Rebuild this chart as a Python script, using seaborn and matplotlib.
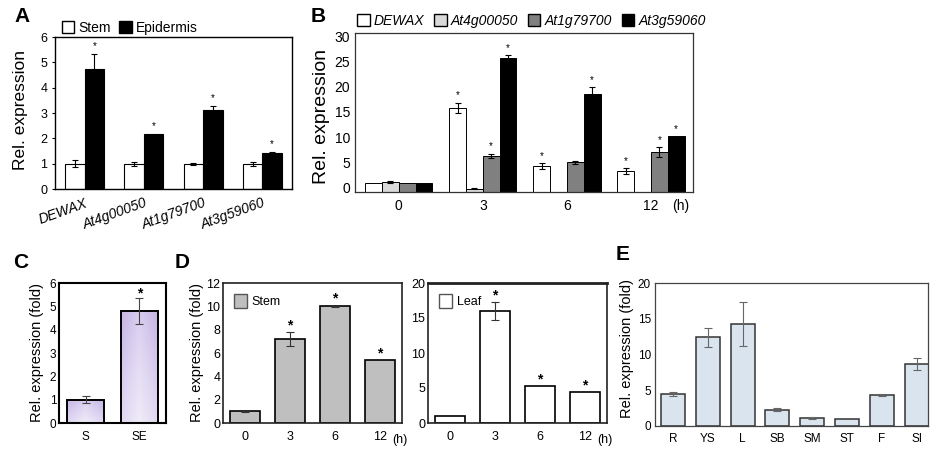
import numpy as np
import pandas as pd
import matplotlib
matplotlib.use("Agg")
import matplotlib.pyplot as plt
import seaborn as sns
from matplotlib.patches import Patch
from matplotlib.colors import LinearSegmentedColormap

# ---- panel A: stem vs stem epidermis
a_genes = ["DEWAX", "At4g00050", "At1g79700", "At3g59060"]
a_stem = [1.0, 1.0, 1.0, 1.0]
a_stem_err = [0.15, 0.08, 0.04, 0.08]
a_epi = [4.75, 2.19, 3.11, 1.44]
a_epi_err = [0.57, 0.0, 0.17, 0.02]

# ---- panel B: time course (h), 0 = no bar drawn
b_times = ["0", "3", "6", "12"]
b_genes = ["DEWAX", "At4g00050", "At1g79700", "At3g59060"]
b_dewax = [1.0, 15.8, 4.3, 3.3]
b_dewax_err = [0.0, 1.05, 0.6, 0.6]
b_at4g = [1.1, -0.2, 0.0, 0.0]
b_at4g_err = [0.2, 0.1, 0.0, 0.0]
b_at1g = [1.0, 6.4, 5.1, 7.1]
b_at1g_err = [0.0, 0.4, 0.3, 0.9]
b_at3g = [1.0, 25.6, 18.6, 10.3]
b_at3g_err = [0.0, 0.6, 1.3, 0.0]
b_star = [[False, True, True, True], [False, False, False, False],
          [False, True, False, True], [False, True, True, True]]

# ---- panel C
c_tissue = ["S", "SE"]
c_vals = [1.0, 4.8]
c_err = [0.14, 0.55]

# ---- panel D
d_times = ["0", "3", "6", "12"]
d_stem = [1.0, 7.2, 10.0, 5.4]
d_stem_err = [0.05, 0.6, 0.06, 0.0]
d_leaf = [1.0, 16.0, 5.3, 4.4]
d_leaf_err = [0.0, 1.3, 0.0, 0.0]

# ---- panel E: organs
e_organs = ["R", "YS", "L", "SB", "SM", "ST", "F", "SI"]
e_vals = [4.5, 12.4, 14.3, 2.3, 1.1, 1.0, 4.35, 8.7]
e_err = [0.25, 1.3, 3.1, 0.15, 0.1, 0.0, 0.15, 0.8]

plt.rcParams["font.family"] = ["Liberation Sans", "DejaVu Sans"]
W, H = 941, 451
fig = plt.figure(figsize=(W / 100, H / 100), dpi=100)


def px_axes(l, r, t, b):
    return fig.add_axes([l / W, 1 - b / H, (r - l) / W, (b - t) / H])


def box(ax, lw=1.0, color="black"):
    for s in ax.spines.values():
        s.set_linewidth(lw)
        s.set_color(color)
    ax.tick_params(axis="x", length=0)
    ax.tick_params(axis="y", length=2, width=0.8)
    ax.set_xlabel("")
    ax.set_ylabel("")


def bar_centers(ax):
    out = []
    for cont in ax.containers:
        out.append([b.get_x() + b.get_width() / 2 for b in cont])
    return out


def add_err(ax, xs, tops, errs, color="black", lw=0.8, cap=2.5):
    for x, t, e in zip(xs, tops, errs):
        if e > 0:
            ax.errorbar(x, t, yerr=e, fmt="none", ecolor=color, elinewidth=lw,
                        capsize=cap, capthick=lw)


def panel_letter(x, y, s):
    fig.text(x / W, 1 - y / H, s, fontsize=15, fontweight="bold",
             ha="center", va="center")


# ================= A =================
axA = px_axes(55, 292, 37, 189)
dfA = pd.DataFrame({"gene": a_genes * 2,
                    "val": a_stem + a_epi,
                    "tissue": ["Stem"] * 4 + ["Epidermis"] * 4})
sns.barplot(data=dfA, x="gene", y="val", hue="tissue", order=a_genes,
            hue_order=["Stem", "Epidermis"], palette=["white", "black"],
            edgecolor="black", linewidth=0.8, width=0.66, errorbar=None,
            legend=False, ax=axA)
axA.set_ylim(0, 6)
axA.set_xlim(-0.5, 3.5)
box(axA)
cA = bar_centers(axA)
add_err(axA, cA[0], a_stem, a_stem_err)
add_err(axA, cA[1], a_epi, a_epi_err)
for x, v, e in zip(cA[1], a_epi, a_epi_err):
    axA.text(x, v + e + 0.19, "*", ha="center", va="baseline", fontsize=7)
axA.set_yticks(range(0, 7))
axA.tick_params(axis="y", labelsize=9)
axA.set_xticks(range(4))
axA.set_xticklabels(a_genes, rotation=20, ha="right", rotation_mode="anchor",
                    fontsize=10, style="italic")
axA.tick_params(axis="x", pad=5)
axA.legend(handles=[Patch(facecolor="white", edgecolor="black", label="Stem"),
                    Patch(facecolor="black", edgecolor="black", label="Epidermis")],
           loc="lower left", bbox_to_anchor=(0.02, 1.0), ncol=2, frameon=False,
           fontsize=10, handlelength=0.9, handleheight=0.9, handletextpad=0.3,
           columnspacing=0.6, borderaxespad=0.05, borderpad=0.1)
fig.text(21 / W, 1 - 110 / H, "Rel. expression", rotation=90, fontsize=12.5,
         ha="center", va="center")
panel_letter(22, 17, "A")

# ================= B =================
axB = px_axes(355, 693, 33, 192)
b_all = [b_dewax, b_at4g, b_at1g, b_at3g]
b_errs = [b_dewax_err, b_at4g_err, b_at1g_err, b_at3g_err]
dfB = pd.DataFrame({"time": b_times * 4,
                    "val": sum(b_all, []),
                    "gene": sum([[g] * 4 for g in b_genes], [])})
b_cols = ["white", "#d9d9d9", "#808080", "black"]
sns.barplot(data=dfB, x="time", y="val", hue="gene", order=b_times,
            hue_order=b_genes, palette=b_cols, edgecolor="black",
            linewidth=0.7, width=0.8, errorbar=None, legend=False, ax=axB)
# bars in the original start at the frame, a little below 0
base = -0.8
for p in axB.patches:
    if p.get_height() == 0:
        p.set_visible(False)
        continue
    top = p.get_y() + p.get_height()
    p.set_y(base)
    p.set_height(top - base)
axB.set_ylim(base, 30.6)
axB.set_xlim(-0.52, 3.5)
box(axB, lw=0.9, color="#333333")
cB = bar_centers(axB)
for k in range(4):
    add_err(axB, cB[k], b_all[k], b_errs[k], lw=0.8, cap=2.5)
    for x, v, e, s in zip(cB[k], b_all[k], b_errs[k], b_star[k]):
        if s:
            axB.text(x, v + e + 0.8, "*", ha="center", va="baseline", fontsize=7)
axB.set_yticks(range(0, 31, 5))
axB.tick_params(axis="y", labelsize=10, length=0)
axB.set_xticks(range(4))
axB.set_xticklabels(b_times, fontsize=10)
axB.tick_params(axis="x", pad=5)
axB.text(0.965, -0.09, "(h)", transform=axB.transAxes, fontsize=10,
         ha="center", va="center")
axB.legend(handles=[Patch(facecolor=c, edgecolor="black", label=g)
                    for c, g in zip(b_cols, b_genes)],
           loc="lower left", bbox_to_anchor=(0.0, 1.02), ncol=4, frameon=False,
           prop={"style": "italic", "size": 10}, handlelength=0.9,
           handleheight=0.9, handletextpad=0.3, columnspacing=0.7,
           borderaxespad=0.05, borderpad=0.1)
fig.text(322 / W, 1 - 117 / H, "Rel. expression", rotation=90, fontsize=14,
         ha="center", va="center")
panel_letter(318, 17, "B")

# ================= C =================
axC = px_axes(59, 166, 283, 423)
dfC = pd.DataFrame({"tissue": c_tissue, "val": c_vals})
sns.barplot(data=dfC, x="tissue", y="val", color="#dcd3f0", edgecolor="black",
            linewidth=1.4, width=0.69, errorbar=None, ax=axC)
purp = LinearSegmentedColormap.from_list("purp", ["#f0ecf8", "#ddd3f1", "#c4b4e4"])
gx, gy = np.meshgrid(np.linspace(0, 1, 60), np.linspace(0, 1, 120))
grad = 0.6 * gy + 0.4 * np.abs(gx - 0.5) * 2
for p in list(axC.patches):
    x0, y0 = p.get_x(), p.get_y()
    im = axC.imshow(grad, extent=[x0, x0 + p.get_width(), y0, y0 + p.get_height()],
                    origin="lower", cmap=purp, aspect="auto",
                    zorder=p.get_zorder() - 0.1, vmin=0, vmax=1)
    im.set_clip_path(p)
    p.set_facecolor("none")
axC.set_ylim(0, 6)
axC.set_xlim(-0.5, 1.5)
box(axC, lw=1.5)
cC = bar_centers(axC)
add_err(axC, cC[0], c_vals, c_err, color="#444444", lw=0.8, cap=3)
axC.text(cC[0][1], c_vals[1] + c_err[1] + 0.02, "*", ha="center", va="baseline",
         fontsize=10, fontweight="bold")
axC.set_yticks(range(0, 7))
axC.tick_params(axis="y", labelsize=8.5, length=0, pad=2)
axC.tick_params(axis="x", labelsize=8.5, pad=6)
fig.text(37 / W, 1 - 353 / H, "Rel. expression (fold)", rotation=90,
         fontsize=10.5, ha="center", va="center")
panel_letter(21, 263, "C")

# ================= D =================
axD1 = px_axes(223, 402, 283, 423)
axD2 = px_axes(428, 607, 283, 423)
for ax, vals, errs, col, lab, top, step in [
        (axD1, d_stem, d_stem_err, "#bfbfbf", "Stem", 12, 2),
        (axD2, d_leaf, d_leaf_err, "white", "Leaf", 20, 5)]:
    dfD = pd.DataFrame({"time": d_times, "val": vals})
    sns.barplot(data=dfD, x="time", y="val", color=col, edgecolor="black",
                linewidth=1.2, width=0.67, errorbar=None, ax=ax)
    ax.set_ylim(0, top)
    ax.set_xlim(-0.5, 3.5)
    box(ax, lw=1.2, color="#222222")
    cD = bar_centers(ax)
    add_err(ax, cD[0], vals, errs, color="#333333", lw=0.8, cap=3)
    for x, v, e in list(zip(cD[0], vals, errs))[1:]:
        ax.text(x, v + e + top * 0.02, "*", ha="center", va="baseline",
                fontsize=10, fontweight="bold")
    ax.set_yticks(range(0, top + 1, step))
    ax.tick_params(axis="y", labelsize=9, length=0, pad=2)
    ax.tick_params(axis="x", labelsize=9, pad=6)
    ax.text(0.99, -0.12, "(h)", transform=ax.transAxes, fontsize=9,
            ha="center", va="center")
    ax.legend(handles=[Patch(facecolor=col, edgecolor="#555555", label=lab)],
              loc="upper left", frameon=False, fontsize=9, handlelength=1.0,
              handleheight=1.3, handletextpad=0.4, borderaxespad=0.5)
axD2.spines["top"].set_linewidth(2.0)
fig.text(197 / W, 1 - 353 / H, "Rel. expression (fold)", rotation=90,
         fontsize=10.5, ha="center", va="center")
panel_letter(182, 263, "D")

# ================= E =================
axE = px_axes(655, 928, 283, 426)
dfE = pd.DataFrame({"organ": e_organs, "val": e_vals})
sns.barplot(data=dfE, x="organ", y="val", color="#d7e4f2", edgecolor="#333333",
            linewidth=1.1, width=0.69, errorbar=None, ax=axE)
axE.set_ylim(0, 20)
axE.set_xlim(-0.52, 7.33)
box(axE, lw=0.9, color="#444444")
cE = bar_centers(axE)
add_err(axE, cE[0], e_vals, e_err, color="#666666", lw=0.8, cap=3)
axE.set_yticks(range(0, 21, 5))
axE.tick_params(axis="y", labelsize=8.5, length=0, pad=3)
axE.tick_params(axis="x", labelsize=8.5, pad=5)
fig.text(627 / W, 1 - 348 / H, "Rel. expression (fold)", rotation=90,
         fontsize=10.5, ha="center", va="center")
panel_letter(623, 255, "E")

fig.savefig("out.png", dpi=100)
